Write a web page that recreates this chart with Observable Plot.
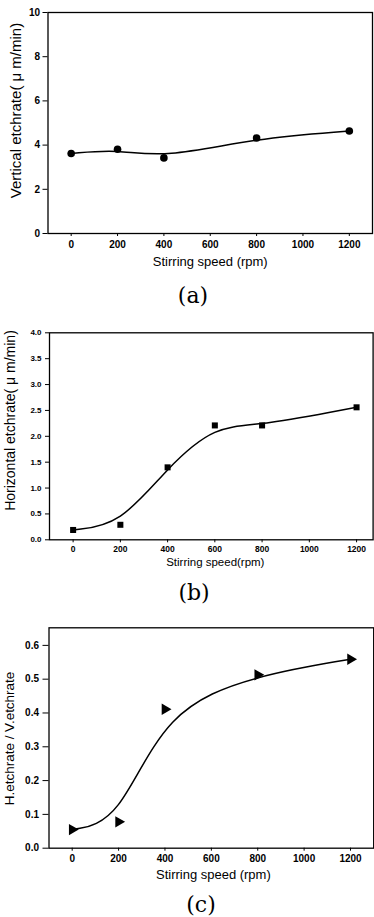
<!DOCTYPE html>
<html>
<head>
<meta charset="utf-8">
<script src="https://cdn.jsdelivr.net/npm/d3@7"></script>
<script src="https://cdn.jsdelivr.net/npm/@observablehq/plot@0.6"></script>
<style>
  html, body { margin: 0; padding: 0; background: #fff; }
  #wrap { position: relative; width: 374px; height: 917px; overflow: hidden; }
  .panel { position: absolute; left: 0; }
  .panel text { font-family: "Liberation Sans", Arial, Helvetica, sans-serif; }
  .panel g[aria-label$="tick label"] text { font-weight: bold; }
  .panel .narrow { font-family: "Liberation Sans Narrow", "DejaVu Sans Condensed", "Arial Narrow", sans-serif; }
  .cap { position: absolute; width: 100px; text-align: center; font-family: "DejaVu Serif", "Liberation Serif", serif; font-size: 22px; line-height: 20px; color: #000; }
</style>
</head>
<body>
<div id="wrap"></div>
<script>
// Shared x values (stirring speed, rpm)
const speedA = [0, 200, 400, 800, 1200];
const vertRate = [3.62, 3.81, 3.42, 4.32, 4.64];

const speedB = [0, 200, 400, 600, 800, 1200];
const horizRate = [0.19, 0.29, 1.40, 2.21, 2.21, 2.56];

const speedC = [0, 200, 400, 800, 1200];
const ratio = [0.055, 0.078, 0.411, 0.513, 0.559];

const ticksA = [0, 2, 4, 6, 8, 10];
const ticksB = [0, 0.5, 1, 1.5, 2, 2.5, 3, 3.5, 4];
const ticksC = [0, 0.1, 0.2, 0.3, 0.4, 0.5, 0.6];
const xTicks = [0, 200, 400, 600, 800, 1000, 1200];

const labels = {
  a: { y: "Vertical etchrate( \u03bc m/min)", x: "Stirring speed (rpm)", cap: "(a)" },
  b: { y: "Horizontal etchrate( \u03bc m/min)", x: "Stirring speed(rpm)", cap: "(b)" },
  c: { y: "H.etchrate / V.etchrate", x: "Stirring speed (rpm)", cap: "(c)" }
};

const wrap = document.getElementById("wrap");
const SANS = "Liberation Sans, Arial, Helvetica, sans-serif";
const fmtInt = d3.format("d");
const fmt1 = d3.format(".1f");

function place(el, top) {
  el.classList.add("panel");
  el.style.top = top + "px";
  wrap.appendChild(el);
}
function caption(text, cx, cy) {
  const d = document.createElement("div");
  d.className = "cap";
  d.textContent = text;
  d.style.left = (cx - 50) + "px";
  d.style.top = (cy - 10) + "px";
  wrap.appendChild(d);
}

// Panel (a)
const dataA = speedA.map((x, i) => ({x, y: vertRate[i]}));
const pA = Plot.plot({
  width: 374, height: 275,
  marginTop: 12, marginBottom: 42, marginLeft: 47.5, marginRight: 2,
  style: { fontFamily: SANS, background: "white", overflow: "visible" },
  x: { domain: [-100, 1300] },
  y: { domain: [0, 10] },
  marks: [
    Plot.frame({ stroke: "#000", strokeWidth: 1.3 }),
    Plot.axisX({ ticks: xTicks, tickFormat: fmtInt, tickSize: 3, tickPadding: 4, fontSize: 10, fontWeight: "bold", label: null }),
    Plot.axisY({ ticks: ticksA, tickFormat: fmtInt, tickSize: 5, tickPadding: 3, fontSize: 10, fontWeight: "bold", label: null }),
    Plot.line(dataA, { x: "x", y: "y", curve: "basis", stroke: "#000", strokeWidth: 1.5 }),
    Plot.dot(dataA, { x: "x", y: "y", r: 3.8, fill: "#000", stroke: "none" }),
    Plot.text([labels.a.x], { frameAnchor: "bottom", dy: 32, fontSize: 13, fill: "#000" }),
    Plot.text([labels.a.y], { frameAnchor: "left", textAnchor: "middle", dx: -31.5, dy: -12.5, rotate: -90, fontSize: 15, fill: "#000" })
  ]
});
place(pA, 0);
caption(labels.a.cap, 193, 296);

// Panel (b)
const dataB = speedB.map((x, i) => ({x, y: horizRate[i]}));
const pB = Plot.plot({
  width: 374, height: 251.3,
  marginTop: 12.3, marginBottom: 32, marginLeft: 49, marginRight: 1.4,
  style: { fontFamily: SANS, background: "white", overflow: "visible" },
  x: { domain: [-100, 1270] },
  y: { domain: [0, 4] },
  marks: [
    Plot.frame({ stroke: "#000", strokeWidth: 1.3 }),
    Plot.axisX({ ticks: xTicks, tickFormat: fmtInt, tickSize: 3, tickPadding: 3, fontSize: 8.5, fontWeight: "bold", label: null, style: "letter-spacing:1px" }),
    Plot.axisY({ ticks: ticksB, tickFormat: fmt1, tickSize: 4, tickPadding: 4, fontSize: 8, fontWeight: "bold", label: null }),
    Plot.line(dataB, { x: "x", y: "y", curve: "basis", stroke: "#000", strokeWidth: 1.5 }),
    Plot.dot(dataB, { x: "x", y: "y", symbol: "square", r: 3.4, fill: "#000", stroke: "none" }),
    Plot.text([labels.b.x], { frameAnchor: "bottom", dx: 4, dy: 26, fontSize: 11.5, fill: "#000", style: "letter-spacing:1.2px" }),
    Plot.text([labels.b.y], { frameAnchor: "left", textAnchor: "middle", dx: -39, dy: -15.8, rotate: -90, fontSize: 14, className: "narrow", fill: "#000" })
  ]
});
place(pB, 320);
caption(labels.b.cap, 194, 593);

// Panel (c)
const dataC = speedC.map((x, i) => ({x, y: ratio[i]}));
const pC = Plot.plot({
  width: 374, height: 275.7,
  marginTop: 15.3, marginBottom: 40, marginLeft: 48.5, marginRight: 0.8,
  style: { fontFamily: SANS, background: "white", overflow: "visible" },
  x: { domain: [-100, 1300] },
  y: { domain: [0, 0.652] },
  marks: [
    Plot.frame({ stroke: "#000", strokeWidth: 1.3 }),
    Plot.axisX({ ticks: xTicks, tickFormat: fmtInt, tickSize: 3, tickPadding: 4, fontSize: 10, fontWeight: "bold", label: null }),
    Plot.axisY({ ticks: ticksC, tickFormat: fmt1, tickSize: 6, tickPadding: 4, fontSize: 10, fontWeight: "bold", label: null }),
    Plot.line(dataC, { x: "x", y: "y", curve: "basis", stroke: "#000", strokeWidth: 1.5 }),
    Plot.dot(dataC, { x: "x", y: "y", symbol: "triangle", rotate: 90, r: 4.2, fill: "#000", stroke: "none" }),
    Plot.text([labels.c.x], { frameAnchor: "bottom", dx: 2, dy: 30.6, fontSize: 13, fill: "#000" }),
    Plot.text([labels.c.y], { frameAnchor: "left", textAnchor: "middle", dx: -39.5, dy: 0.5, rotate: -90, fontSize: 13.5, fill: "#000" })
  ]
});
place(pC, 612);
caption(labels.c.cap, 201, 905);
</script>
</body>
</html>
